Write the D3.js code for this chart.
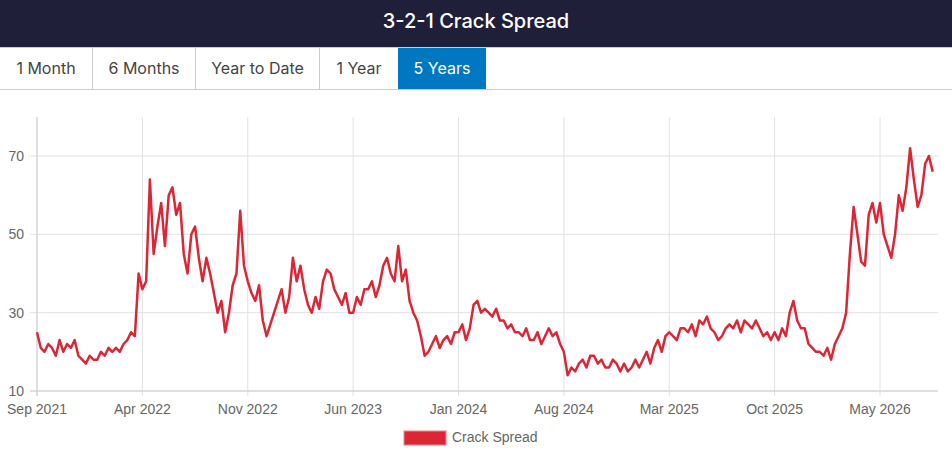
<!DOCTYPE html>
<html><head><meta charset="utf-8">
<script src="https://cdn.jsdelivr.net/npm/d3@7"></script>
<style>
body{margin:0;width:952px;height:451px;overflow:hidden;background:#fff;font-family:Inter,"Noto Sans",sans-serif}
.head{height:47px;background:#1f1f3a;color:#fff;text-align:center;font-size:20px;font-weight:500;line-height:42px}
.tabs{display:flex;height:41px;border-bottom:1px solid #ccc;border-top:1px solid #ccc}
.tab{border-left:1px solid #ccc;line-height:41px;font-size:16px;color:#444}
.tab.on{background:#0078c1;color:#fff;border-left:none}
</style></head><body>
<div class="head">3-2-1 Crack Spread</div>
<div class="tabs" id="tabs"></div>
<div id="chart"></div>
<script>
const tabs = ['1 Month', '6 Months', 'Year to Date', '1 Year', '5 Years'];
const tabWidths = [93, 103, 124, 79, 89];
const xTicks = ['Sep 2021','Apr 2022','Nov 2022','Jun 2023','Jan 2024','Aug 2024','Mar 2025','Oct 2025','May 2026'];
const yTicks = [10, 30, 50, 70];
// quarter-month readings, from Sep 2021
const values = [
  25,21,20,22, 21,19,23,20, 22,21,23,19, 18,17,19,18, 18,20,19,21, 20,21,20,22,
  23,25,24,40, 36,38,64,45, 52,58,47,60, 62,55,58,45, 40,50,52,44, 38,44,40,35,
  30,33,25,30, 37,40,56,42, 38,35,33,37, 28,24,27,30, 33,36,30,34, 44,38,42,36,
  32,30,34,31, 38,41,40,36, 34,32,35,30, 30,34,32,36, 36,38,34,37, 42,44,40,38,
  47,38,41,33, 30,28,24,19, 20,22,24,21, 23,24,22,25, 25,27,23,26, 32,33,30,31,
  30,29,31,28, 28,26,27,25, 25,24,26,23, 23,25,22,24, 26,24,25,22, 20,14,16,15,
  17,18,16,19, 19,17,18,16, 16,18,17,15, 17,15,16,18, 16,18,20,17, 21,23,20,24,
  25,24,23,26, 26,25,27,24, 28,27,29,26, 25,23,24,26, 27,26,28,25, 28,27,26,28,
  26,24,25,23, 25,23,26,24, 30,33,28,26, 26,22,21,20, 20,19,21,18, 22,24,26,30,
  45,57,50,43, 42,55,58,53, 58,50,47,44, 50,60,56,62, 72,64,57,60, 68,70,66];

d3.select('#tabs').selectAll('div').data(tabs).enter().append('div')
  .attr('class', (d, i) => i === 4 ? 'tab on' : 'tab')
  .style('width', (d, i) => (tabWidths[i] - 1) + 'px')
  .style('border-left', (d, i) => i === 0 ? 'none' : null)
  .style('text-align', 'center')
  .text(d => d);

const width = 952, height = 361;
const svg = d3.select('#chart').append('svg').attr('width', width).attr('height', height);
const top0 = 90;
const x = d3.scaleLinear().domain([0, 56]).range([37, 880]);
const y = d3.scaleLinear().domain([10, 70]).range([391 - top0, 156 - top0]);

const g = svg.append('g');
// grid
g.selectAll('.vg').data(xTicks).enter().append('line')
  .attr('x1', (d, i) => x(i * 7)).attr('x2', (d, i) => x(i * 7))
  .attr('y1', 117 - top0).attr('y2', y(10) + 5).attr('stroke', '#e2e2e2');
g.selectAll('.hg').data(yTicks).enter().append('line')
  .attr('x1', 30).attr('x2', 938).attr('y1', d => y(d)).attr('y2', d => y(d))
  .attr('stroke', '#e2e2e2');
g.append('line').attr('x1', 37).attr('x2', 37).attr('y1', 117 - top0).attr('y2', y(10) + 5).attr('stroke', '#ccc');
g.append('line').attr('x1', 30).attr('x2', 938).attr('y1', y(10)).attr('y2', y(10)).attr('stroke', '#ccc');

g.selectAll('.yl').data(yTicks).enter().append('text')
  .attr('x', 24).attr('y', d => y(d) + 5).attr('text-anchor', 'end')
  .attr('font-family', 'Arial, Liberation Sans').attr('font-size', '14px').attr('fill', '#666').text(d => d);
g.selectAll('.xl').data(xTicks).enter().append('text')
  .attr('x', (d, i) => x(i * 7)).attr('y', y(10) + 23).attr('text-anchor', 'middle')
  .attr('font-family', 'Arial, Liberation Sans').attr('font-size', '14px').attr('fill', '#666').text(d => d);

const line = d3.line().x((d, i) => x(i * 0.25)).y(d => y(d));
g.append('path').datum(values).attr('d', line).attr('fill', 'none')
  .attr('stroke', '#dc2535').attr('stroke-width', 2.5).attr('stroke-linejoin', 'round');

// legend
g.append('rect').attr('x', 404).attr('y', 431 - top0).attr('width', 42).attr('height', 14)
  .attr('fill', '#dc2535').attr('stroke', '#e88');
g.append('text').attr('x', 452).attr('y', 442 - top0)
  .attr('font-family', 'Arial, Liberation Sans').attr('font-size', '14px').attr('fill', '#666').text('Crack Spread');
</script>
</body></html>
